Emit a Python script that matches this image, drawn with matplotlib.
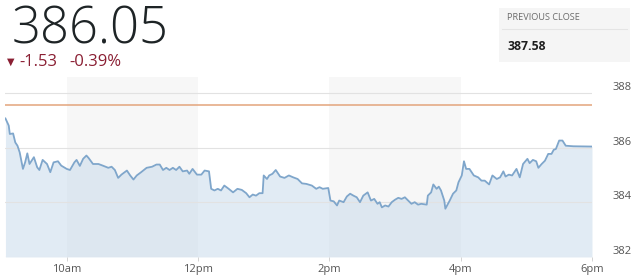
import matplotlib.pyplot as plt

# ---------------------------------------------------
# Data (minutes since 9:00, price)
# ---------------------------------------------------
minutes = [4, 7, 8, 11, 13, 15, 17, 20, 22, 24, 26, 30, 33, 35, 38, 42, 45, 48, 52, 55,
           60, 63, 67, 69, 72, 75, 78, 80, 84, 89, 93, 98, 101, 104, 107, 110, 115, 118, 121, 124,
           128, 133, 138, 142, 145, 148, 151, 154, 157, 160, 163, 166, 170, 172, 175, 179, 183, 186, 190, 192,
           195, 198, 201, 204, 208, 212, 216, 220, 224, 227, 230, 233, 236, 239, 240, 243, 245, 248, 251, 255,
           259, 263, 267, 271, 275, 279, 284, 288, 291, 294, 299, 301, 304, 307, 309, 313, 316, 319, 322, 325,
           328, 331, 335, 338, 341, 344, 346, 348, 351, 354, 357, 360, 363, 366, 369, 372, 375, 378, 381, 384,
           389, 390, 393, 395, 398, 400, 402, 405, 406, 410, 413, 416, 418, 421, 423, 425, 428, 432, 436, 439,
           442, 446, 449, 453, 456, 459, 461, 464, 467, 471, 474, 477, 481, 483, 486, 489, 491, 494, 497, 500,
           503, 505, 507, 510, 513, 516, 523, 540]
prices = [387.08, 386.82, 386.51, 386.53, 386.20, 386.08, 385.84, 385.23, 385.47, 385.80,
          385.41, 385.66, 385.29, 385.19, 385.56, 385.41, 385.11, 385.47, 385.51, 385.35,
          385.23, 385.19, 385.47, 385.56, 385.34, 385.60, 385.72, 385.63, 385.41, 385.41,
          385.35, 385.27, 385.31, 385.19, 384.90, 385.02, 385.17, 384.99, 384.84, 384.99,
          385.11, 385.27, 385.31, 385.39, 385.39, 385.19, 385.27, 385.19, 385.27, 385.19,
          385.31, 385.14, 385.17, 385.05, 385.23, 385.02, 385.02, 385.17, 385.14, 384.50,
          384.44, 384.50, 384.44, 384.62, 384.50, 384.37, 384.50, 384.46, 384.34, 384.19,
          384.29, 384.25, 384.34, 384.34, 384.99, 384.86, 384.99, 385.05, 385.19, 384.95,
          384.90, 384.99, 384.92, 384.86, 384.70, 384.68, 384.62, 384.50, 384.56, 384.50,
          384.53, 384.07, 384.04, 383.89, 384.07, 384.01, 384.22, 384.32, 384.25, 384.19,
          384.01, 384.25, 384.37, 384.07, 384.13, 383.95, 384.01, 383.82, 383.89, 383.85,
          384.01, 384.10, 384.17, 384.13, 384.19, 384.07, 383.95, 384.01, 383.92, 383.95,
          383.92, 384.25, 384.37, 384.66, 384.50, 384.58, 384.44, 384.07, 383.77, 384.07,
          384.32, 384.44, 384.74, 384.99, 385.51, 385.23, 385.23, 384.99, 384.92, 384.80,
          384.80, 384.66, 384.99, 384.86, 384.92, 385.14, 384.95, 385.02, 384.99, 385.23,
          384.92, 385.41, 385.60, 385.44, 385.56, 385.51, 385.27, 385.41, 385.53, 385.78,
          385.78, 385.93, 385.96, 386.27, 386.27, 386.08, 386.06, 386.05]

last_price = "386.05"
change = "-1.53"
change_pct = "-0.39%"
previous_close = 387.58

x_ticks = [60, 180, 300, 420, 540]
x_labels = ["10am", "12pm", "2pm", "4pm", "6pm"]
y_ticks = [382, 384, 386, 388]
shaded_hours = [(60, 180), (300, 420)]

LINE_COLOR = "#7fa6cb"
FILL_COLOR = "#c9dbeb"
PREV_COLOR = "#e3a47c"
GRID_COLOR = "#e2e2e2"
BAND_COLOR = "#f7f7f7"
RED = "#8a1f33"


def main():
    fig = plt.figure(figsize=(6.4, 2.77), dpi=100)
    plt.rcParams["font.family"] = ["Open Sans", "DejaVu Sans"]

    # header texts
    fig.text(12 / 640, 1 - 43 / 277, last_price, fontsize=36.5, color="#1e2426",
             va="baseline", ha="left", fontweight="light")
    fig.text(7 / 640, 1 - 62 / 277, "▼", fontsize=7, color=RED, va="center",
             ha="left", family="DejaVu Sans")
    fig.text(19 / 640, 1 - 62 / 277, change, fontsize=12, color=RED, va="center", ha="left")
    fig.text(69 / 640, 1 - 62 / 277, change_pct, fontsize=12, color=RED, va="center", ha="left")

    # previous close box
    box = fig.add_axes([499 / 640, 1 - 62 / 277, 131 / 640, 54 / 277])
    box.set_facecolor("#f5f5f5")
    box.set_xlim(0, 1)
    box.set_ylim(0, 1)
    box.set_xticks([])
    box.set_yticks([])
    for s in box.spines.values():
        s.set_visible(False)
    box.axhline(1 - 21 / 54, xmin=0.02, xmax=0.98, color="#e4e4e4", lw=0.8)
    box.text(8 / 131, 1 - 10 / 54, "PREVIOUS CLOSE", fontsize=6.6, color="#6b6b6b",
             va="center", ha="left")
    box.text(8 / 131, 1 - 38 / 54, f"{previous_close:.2f}", fontsize=8.8, color="#1e1e1e",
             va="center", ha="left", fontweight="bold")

    # main chart
    ax = fig.add_axes([5 / 640, 20 / 277, 587 / 640, 180 / 277])
    for start, end in shaded_hours:
        ax.axvspan(start, end, color=BAND_COLOR, zorder=0, lw=0)

    ax.fill_between(minutes, prices, 382, color=FILL_COLOR, alpha=0.55, lw=0, zorder=1)
    for y in y_ticks:
        ax.axhline(y, color=GRID_COLOR, lw=0.8, zorder=2)
    ax.axhline(previous_close, color=PREV_COLOR, lw=1.1, zorder=3)
    ax.plot(minutes, prices, color=LINE_COLOR, lw=1.3, zorder=4)

    ax.set_xlim(3.6, 540)
    ax.set_ylim(382, 388.6)
    ax.set_xticks(x_ticks)
    ax.set_xticklabels(x_labels)
    ax.yaxis.tick_right()
    ax.set_yticks(y_ticks)
    ax.set_yticklabels([str(v) for v in y_ticks])
    for lab in ax.get_yticklabels():
        lab.set_va("bottom")
    ax.tick_params(axis="y", length=0, pad=15, labelsize=8, labelcolor="#555555")
    ax.tick_params(axis="x", length=3, width=0.6, color="#cccccc", pad=2,
                   labelsize=8, labelcolor="#555555")
    for s in ax.spines.values():
        s.set_visible(False)
    ax.set_facecolor("none")

    fig.savefig("out.png", dpi=100)


if __name__ == "__main__":
    main()
